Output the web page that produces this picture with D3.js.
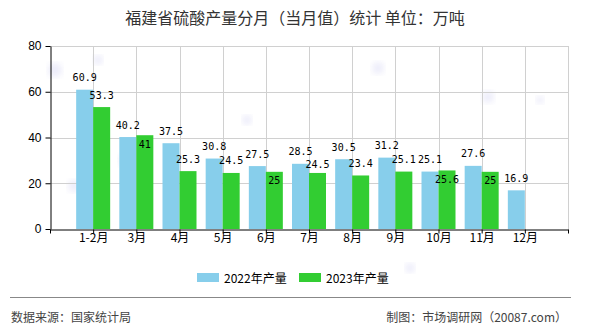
<!DOCTYPE html>
<html>
<head>
<meta charset="utf-8">
<script src="https://cdn.jsdelivr.net/npm/d3@7"></script>
<style>
  html, body { margin: 0; padding: 0; background: #fff; }
  svg { display: block; }
</style>
</head>
<body>
<svg id="chart" width="590" height="330"></svg>
<script>
// Monthly sulfuric acid output, Fujian (10k tonnes)
const months = ["1-2月", "3月", "4月", "5月", "6月", "7月", "8月", "9月", "10月", "11月", "12月"];
const output2022 = [60.9, 40.2, 37.5, 30.8, 27.5, 28.5, 30.5, 31.2, 25.1, 27.6, 16.9];
const output2023 = [53.3, 41, 25.3, 24.5, 25, 24.5, 23.4, 25.1, 25.6, 25, null];
const yTicks = [0, 20, 40, 60, 80];
const seriesNames = ["2022年产量", "2023年产量"];
const seriesColors = ["#87CEEB", "#32CD32"];

const svg = d3.select("#chart");
const plot = { left: 50, right: 568, top: 46, bottom: 229 };

// faint background dots
const defs = svg.append("defs");
defs.append("filter").attr("id", "soft")
  .append("feGaussianBlur").attr("stdDeviation", 3);
const dots = [[55, 70, 7], [98, 60, 5], [125, 160, 6], [74, 186, 6], [247, 120, 5],
              [378, 68, 6], [488, 97, 6], [540, 100, 4], [410, 268, 5]];
svg.append("g").selectAll("circle").data(dots).join("circle")
  .attr("cx", d => d[0]).attr("cy", d => d[1]).attr("r", d => d[2])
  .attr("fill", "#c8c8f0").attr("opacity", 0.35).attr("filter", "url(#soft)");

// title
svg.append("text")
  .attr("x", 295).attr("y", 17)
  .attr("text-anchor", "middle").attr("dominant-baseline", "central")
  .attr("font-family", "'Noto Sans CJK SC', sans-serif")
  .attr("font-size", 16).attr("fill", "#333")
  .text("福建省硫酸产量分月（当月值）统计  单位：万吨");

const x = d3.scalePoint().domain(months).range([plot.left, plot.right]).padding(1);
const y = d3.scaleLinear().domain([0, 80]).range([plot.bottom, plot.top]);
const step = x.step();
const barW = 17;

// grid
const grid = svg.append("g").attr("stroke", "#d0d0d0").attr("stroke-width", 1);
grid.selectAll("line.h").data(yTicks.filter(t => t > 0)).join("line")
  .attr("class", "h")
  .attr("x1", plot.left).attr("x2", plot.right)
  .attr("y1", d => Math.round(y(d)) + 0.5).attr("y2", d => Math.round(y(d)) + 0.5);
const vPos = d3.range(1, months.length + 2).map(k => plot.left + k * step);
grid.selectAll("line.v").data(vPos).join("line")
  .attr("class", "v")
  .attr("x1", d => Math.round(d) + 0.5).attr("x2", d => Math.round(d) + 0.5)
  .attr("y1", plot.top).attr("y2", plot.bottom);

// bars
const series = [output2022, output2023];
series.forEach((vals, si) => {
  svg.append("g").selectAll("rect")
    .data(months.map((m, i) => ({ m, v: vals[i] })).filter(d => d.v != null))
    .join("rect")
    .attr("x", d => x(d.m) + (si === 0 ? -barW : 0))
    .attr("width", barW)
    .attr("y", d => y(d.v))
    .attr("height", d => y(0) - y(d.v))
    .attr("fill", seriesColors[si]);
});

// axes
const axisG = svg.append("g").attr("font-family", "'Liberation Sans', Arial, sans-serif");
const xAxis = d3.axisBottom(x).tickSize(4).tickSizeOuter(0);
const gx = axisG.append("g").attr("transform", `translate(0,${plot.bottom + 0.5})`).call(xAxis);
gx.select(".domain").attr("stroke", "#000");
gx.selectAll(".tick line").attr("stroke", "#000");
gx.selectAll(".tick text")
  .attr("font-family", "'Noto Sans CJK SC', sans-serif")
  .attr("font-size", 12).attr("fill", "#000").attr("dy", "0.6em").attr("y", 5);
// outer tick marks at the plot edges
gx.selectAll("line.edge").data([plot.left, plot.right]).join("line")
  .attr("class", "edge")
  .attr("x1", d => d + 0.5).attr("x2", d => d + 0.5)
  .attr("y1", 0).attr("y2", 4).attr("stroke", "#000");

const yAxis = d3.axisLeft(y).tickValues(yTicks).tickSize(5).tickSizeOuter(0);
const gy = axisG.append("g").attr("transform", `translate(${plot.left + 0.5},0)`).call(yAxis);
gy.select(".domain").attr("stroke", "#000");
gy.selectAll(".tick line").attr("stroke", "#000");
gy.selectAll(".tick text").attr("font-size", 12).attr("fill", "#000").attr("x", -9);

// value labels; the 2023 label avoids the 2022 label of the same month
const glyphH = 7.5, gapAbove = 8.5, spacing = 5;
const labelG = svg.append("g")
  .attr("font-family", "'DejaVu Sans Mono', monospace")
  .attr("font-size", 10).attr("fill", "#000").attr("text-anchor", "middle");
months.forEach((m, i) => {
  const v1 = output2022[i], v2 = output2023[i];
  let base1 = null;
  if (v1 != null) {
    base1 = y(v1) - gapAbove;
    labelG.append("text").attr("x", x(m) - barW / 2).attr("y", base1).text(v1);
  }
  if (v2 != null) {
    let base2 = y(v2) - gapAbove;
    if (base1 != null) {
      const room = (base2 - glyphH) - base1;
      if (room < 0) base2 = y(v2) + 5 + glyphH;                  // tucked inside the bar
      else if (room < spacing) base2 = base1 + spacing + glyphH; // nudged down
    }
    labelG.append("text").attr("x", x(m) + barW / 2).attr("y", base2).text(v2);
  }
});

// legend
const legend = svg.append("g")
  .attr("font-family", "'Noto Sans CJK SC', sans-serif").attr("font-size", 12);
const legendX = [197, 299];
seriesNames.forEach((name, i) => {
  legend.append("rect").attr("x", legendX[i]).attr("y", 273)
    .attr("width", 22).attr("height", 9).attr("fill", seriesColors[i]);
  legend.append("text").attr("x", legendX[i] + 27).attr("y", 277.5)
    .attr("dominant-baseline", "central").attr("fill", "#000").text(name);
});

// footer
svg.append("line").attr("x1", 10).attr("x2", 571).attr("y1", 297.5).attr("y2", 297.5)
  .attr("stroke", "#888").attr("stroke-width", 1);
const foot = svg.append("g")
  .attr("font-family", "'Noto Sans CJK SC', sans-serif").attr("font-size", 12).attr("fill", "#444");
foot.append("text").attr("x", 11).attr("y", 316).attr("dominant-baseline", "central")
  .text("数据来源：国家统计局");
foot.append("text").attr("x", 567).attr("y", 316).attr("dominant-baseline", "central")
  .attr("text-anchor", "end").text("制图：市场调研网（20087.com）");
</script>
</body>
</html>
